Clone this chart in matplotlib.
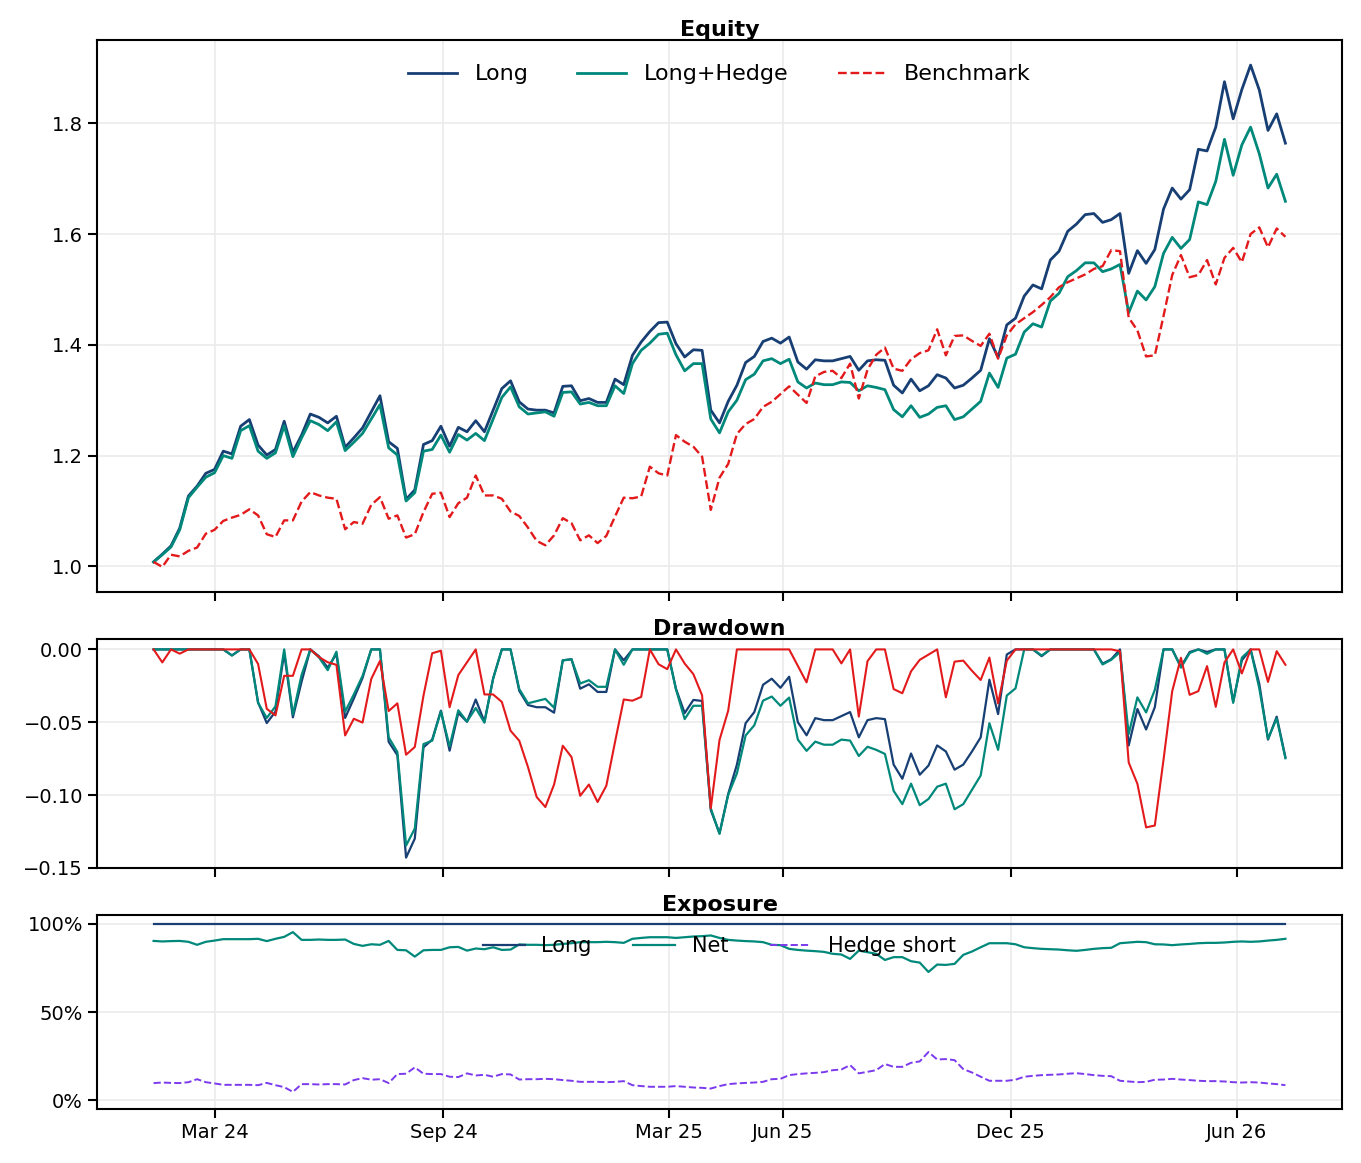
import numpy as np
import pandas as pd
import matplotlib
matplotlib.use('Agg')
import matplotlib.pyplot as plt
import matplotlib.dates as mdates
from matplotlib.ticker import PercentFormatter

plt.rcParams['font.family'] = 'DejaVu Sans'
plt.rcParams['axes.linewidth'] = 1.5

# weekly points, Fridays
start_date = '2024-01-12'
n_weeks = 131

long_eq = [1.008, 1.022, 1.037, 1.069, 1.127, 1.145, 1.168, 1.175, 1.208, 1.203,
           1.253, 1.265, 1.219, 1.201, 1.211, 1.262, 1.206, 1.237, 1.275, 1.269,
           1.259, 1.271, 1.215, 1.232, 1.250, 1.279, 1.308, 1.225, 1.213, 1.121,
           1.138, 1.220, 1.227, 1.253, 1.217, 1.251, 1.243, 1.263, 1.243, 1.282,
           1.321, 1.335, 1.297, 1.284, 1.282, 1.282, 1.277, 1.325, 1.326, 1.299,
           1.303, 1.296, 1.296, 1.338, 1.328, 1.381, 1.405, 1.424, 1.440, 1.441,
           1.402, 1.378, 1.391, 1.390, 1.282, 1.259, 1.298, 1.327, 1.368, 1.379,
           1.406, 1.412, 1.403, 1.414, 1.369, 1.356, 1.373, 1.371, 1.371, 1.375,
           1.379, 1.354, 1.371, 1.373, 1.372, 1.327, 1.313, 1.338, 1.317, 1.326,
           1.346, 1.340, 1.322, 1.327, 1.340, 1.354, 1.411, 1.377, 1.436, 1.448,
           1.488, 1.508, 1.501, 1.553, 1.569, 1.605, 1.618, 1.635, 1.637, 1.621,
           1.626, 1.637, 1.529, 1.570, 1.547, 1.572, 1.645, 1.683, 1.663, 1.680,
           1.753, 1.750, 1.793, 1.875, 1.808, 1.861, 1.905, 1.860, 1.787, 1.817,
           1.764]

hedged_eq = [1.008, 1.021, 1.035, 1.066, 1.124, 1.143, 1.161, 1.169, 1.200, 1.195,
             1.245, 1.254, 1.208, 1.195, 1.205, 1.254, 1.198, 1.232, 1.263, 1.256,
             1.245, 1.261, 1.209, 1.224, 1.240, 1.266, 1.292, 1.214, 1.201, 1.118,
             1.133, 1.208, 1.211, 1.237, 1.206, 1.238, 1.228, 1.240, 1.227, 1.266,
             1.305, 1.324, 1.288, 1.275, 1.277, 1.279, 1.271, 1.314, 1.315, 1.293,
             1.296, 1.290, 1.290, 1.326, 1.312, 1.366, 1.390, 1.403, 1.419, 1.421,
             1.382, 1.353, 1.366, 1.366, 1.266, 1.241, 1.279, 1.300, 1.337, 1.347,
             1.371, 1.375, 1.366, 1.374, 1.333, 1.322, 1.331, 1.328, 1.328, 1.333,
             1.332, 1.317, 1.326, 1.323, 1.319, 1.283, 1.270, 1.290, 1.269, 1.275,
             1.287, 1.290, 1.265, 1.270, 1.284, 1.298, 1.349, 1.323, 1.376, 1.383,
             1.423, 1.438, 1.432, 1.479, 1.493, 1.523, 1.534, 1.548, 1.548, 1.532,
             1.537, 1.545, 1.458, 1.497, 1.481, 1.505, 1.565, 1.594, 1.574, 1.590,
             1.658, 1.653, 1.695, 1.771, 1.706, 1.761, 1.793, 1.745, 1.683, 1.708,
             1.659]

bench_eq = [1.008, 0.999, 1.021, 1.018, 1.028, 1.034, 1.059, 1.066, 1.082, 1.088,
            1.093, 1.103, 1.092, 1.058, 1.053, 1.083, 1.083, 1.117, 1.134, 1.128,
            1.124, 1.122, 1.067, 1.080, 1.077, 1.111, 1.125, 1.086, 1.092, 1.052,
            1.058, 1.098, 1.131, 1.133, 1.089, 1.114, 1.124, 1.164, 1.128, 1.128,
            1.122, 1.099, 1.091, 1.070, 1.046, 1.038, 1.056, 1.087, 1.078, 1.047,
            1.056, 1.042, 1.055, 1.090, 1.124, 1.123, 1.126, 1.180, 1.168, 1.164,
            1.237, 1.225, 1.216, 1.198, 1.102, 1.160, 1.185, 1.239, 1.257, 1.266,
            1.288, 1.297, 1.311, 1.325, 1.310, 1.295, 1.343, 1.351, 1.353, 1.340,
            1.366, 1.303, 1.355, 1.382, 1.395, 1.357, 1.353, 1.374, 1.385, 1.390,
            1.428, 1.381, 1.416, 1.417, 1.407, 1.398, 1.420, 1.375, 1.417, 1.437,
            1.448, 1.459, 1.472, 1.486, 1.504, 1.513, 1.520, 1.527, 1.537, 1.542,
            1.571, 1.569, 1.449, 1.426, 1.379, 1.381, 1.452, 1.526, 1.562, 1.522,
            1.526, 1.553, 1.509, 1.557, 1.575, 1.549, 1.600, 1.612, 1.576, 1.610,
            1.595]

# hedge short exposure in percent
hedge_short = [9.7, 10.0, 9.8, 9.7, 10.2, 11.9, 10.2, 9.5, 8.7, 8.7,
               8.7, 8.7, 8.5, 9.8, 8.5, 7.4, 4.7, 9.1, 9.1, 8.9,
               9.1, 9.1, 8.9, 11.4, 12.5, 11.6, 11.9, 9.7, 14.8, 15.0,
               18.6, 15.0, 14.8, 14.8, 13.3, 13.1, 15.2, 14.0, 14.4, 13.3,
               14.8, 14.6, 11.7, 11.9, 11.9, 12.1, 11.9, 11.4, 11.0, 10.4,
               10.4, 10.4, 10.2, 10.4, 10.8, 8.5, 8.0, 7.6, 7.6, 7.6,
               8.0, 7.6, 7.2, 7.0, 6.6, 8.0, 9.1, 9.5, 9.8, 10.0,
               10.4, 11.9, 12.1, 14.2, 14.8, 15.2, 15.5, 15.9, 17.0, 17.4,
               19.9, 15.2, 16.1, 17.0, 20.5, 18.9, 18.9, 21.2, 22.0, 27.3,
               23.1, 23.3, 22.7, 17.6, 15.7, 13.3, 11.0, 11.0, 11.0, 11.6,
               13.3, 13.8, 14.2, 14.4, 14.6, 15.0, 15.3, 14.8, 14.2, 13.8,
               13.6, 11.0, 10.6, 10.2, 10.4, 11.6, 11.7, 12.1, 11.7, 11.4,
               11.0, 10.8, 10.8, 10.6, 10.2, 10.0, 10.2, 10.0, 9.5, 9.1,
               8.5]

tick_dates = ['2024-03-01', '2024-09-01', '2025-03-01', '2025-06-01', '2025-12-01', '2026-06-01']

c_long = '#173f74'
c_hedge = '#00897b'
c_bench = '#e31a1c'
c_short = '#7c3aed'
grid_c = '#ebebeb'

dates = pd.date_range(start_date, periods=n_weeks, freq='W-FRI')
long_eq = np.array(long_eq)
hedged_eq = np.array(hedged_eq)
bench_eq = np.array(bench_eq)


def drawdown(eq):
    return eq / np.maximum.accumulate(eq) - 1.0


long_exp = np.ones(n_weeks)
short_exp = np.array(hedge_short) / 100.0
net_exp = long_exp - short_exp

W, H = 1361, 1163
fig = plt.figure(figsize=(W / 100, H / 100), dpi=100)
left, width = 97 / W, 1245 / W
ax1 = fig.add_axes([left, 1 - 592 / H, width, 552 / H])
ax2 = fig.add_axes([left, 1 - 868 / H, width, 229 / H], sharex=ax1)
ax3 = fig.add_axes([left, 1 - 1109 / H, width, 194 / H], sharex=ax1)

# equity
ax1.plot(dates, long_eq, color=c_long, lw=2.0, label='Long')
ax1.plot(dates, hedged_eq, color=c_hedge, lw=2.0, label='Long+Hedge')
ax1.plot(dates, bench_eq, color=c_bench, lw=1.7, ls='--', label='Benchmark')
ax1.set_title('Equity', fontsize=16, fontweight='bold', pad=3)
ax1.legend(loc='upper center', ncol=3, frameon=False, fontsize=16,
           handlelength=2.2, columnspacing=2.2, borderaxespad=0.7)

# drawdown
ax2.plot(dates, drawdown(long_eq), color=c_long, lw=1.6)
ax2.plot(dates, drawdown(hedged_eq), color=c_hedge, lw=1.6)
ax2.plot(dates, drawdown(bench_eq), color=c_bench, lw=1.5)
ax2.set_title('Drawdown', fontsize=16, fontweight='bold', pad=3)
ax2.set_yticks([0.0, -0.05, -0.10, -0.15])

# exposure
ax3.plot(dates, long_exp, color=c_long, lw=1.6, label='Long')
ax3.plot(dates, net_exp, color=c_hedge, lw=1.6, label='Net')
ax3.plot(dates, short_exp, color=c_short, lw=1.4, ls='--', label='Hedge short')
ax3.set_title('Exposure', fontsize=16, fontweight='bold', pad=3)
ax3.set_ylim(-0.05, 1.05)
ax3.set_yticks([0, 0.5, 1.0])
ax3.yaxis.set_major_formatter(PercentFormatter(1.0, decimals=0))
ax3.legend(loc='upper center', ncol=3, frameon=False, fontsize=15,
           handlelength=2.0, columnspacing=2.0, borderaxespad=0.6)

ax3.set_xticks(pd.to_datetime(tick_dates))
ax3.xaxis.set_major_formatter(mdates.DateFormatter('%b %y'))

for ax in (ax1, ax2, ax3):
    ax.grid(True, color=grid_c, lw=1.2)
    ax.set_axisbelow(True)
    ax.tick_params(labelsize=14, length=6.5, width=1.5)
for ax in (ax1, ax2):
    plt.setp(ax.get_xticklabels(), visible=False)

fig.savefig('out.png', dpi=100)
